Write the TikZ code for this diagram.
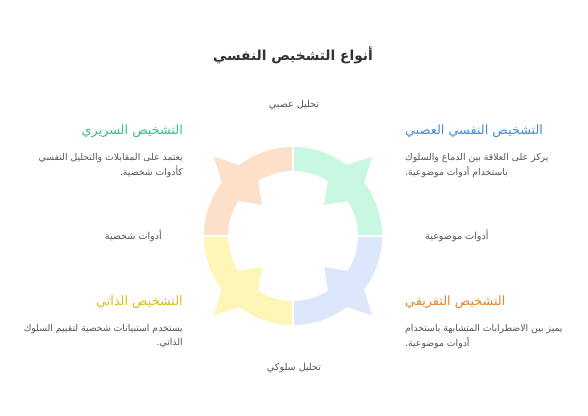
\documentclass[tikz,border=0pt]{standalone}
\usepackage{fontspec}
\newfontfamily\ar[Script=Arabic]{DejaVu Sans}
\TeXXeTstate=1
\definecolor{ringO}{RGB}{253,224,201}
\definecolor{ringG}{RGB}{200,248,226}
\definecolor{ringB}{RGB}{220,231,252}
\definecolor{ringY}{RGB}{254,246,182}
\definecolor{hG}{RGB}{60,190,130}
\definecolor{hB}{RGB}{70,140,215}
\definecolor{hO}{RGB}{222,137,50}
\definecolor{hY}{RGB}{215,190,20}
\definecolor{descc}{RGB}{85,85,85}
\definecolor{titlec}{RGB}{51,51,51}
\begin{document}
\begin{tikzpicture}[x=1pt,y=-1pt,
  ttl/.style={inner sep=0pt,font=\ar\bfseries\fontsize{13.8}{16}\selectfont,text=titlec},
  hdr/.style={inner sep=0pt,font=\ar\fontsize{12.8}{15}\selectfont},
  dsc/.style={inner sep=0pt,font=\ar\fontsize{9.3}{11}\selectfont,text=descc},
  lbl/.style={inner sep=0pt,font=\ar\fontsize{9.6}{11}\selectfont,text=descc}]
\useasboundingbox[fill=white] (0,0) rectangle (588,415);
% ring
\begin{scope}[shift={(293pt,-236pt)},x=1pt,y=1pt]
  \foreach \a/\c in {0/ringG,90/ringO,180/ringY,270/ringB}{
    \fill[\c] (\a:89) arc[start angle=\a, end angle=\a+90, radius=89]
      -- ({\a+90}:65) arc[start angle=\a+90, end angle=\a, radius=65] -- cycle;
    \pgfmathsetmacro{\m}{\a+45}
    \fill[\c] (\m:112) -- ({\m-8}:89) -- ({\m-12.5}:65) -- (\m:44)
      -- ({\m+12.5}:65) -- ({\m+8}:89) -- cycle;
  }
  \draw[white,line width=2pt] (0,-95) -- (0,95);
  \draw[white,line width=2pt] (-95,0) -- (95,0);
\end{scope}
% title
\node[ttl] (title) at (293,55) {\beginR أنواع التشخيص النفسي\endR};
% top-left
\node[hdr,text=hG,anchor=east] (h1) at (183,131) {\beginR التشخيص السريري\endR};
\node[dsc,anchor=east] (d1a) at (183,158) {\beginR يعتمد على المقابلات والتحليل النفسي\endR};
\node[dsc,anchor=east] (d1b) at (183,172) {\beginR كأدوات شخصية.\endR};
% top-right
\node[hdr,text=hB,anchor=west] (h2) at (405,131) {\beginR التشخيص النفسي العصبي\endR};
\node[dsc,anchor=west] (d2a) at (405,158) {\beginR يركز على العلاقة بين الدماغ والسلوك\endR};
\node[dsc,anchor=west] (d2b) at (405,172) {\beginR باستخدام أدوات موضوعية.\endR};
% bottom-left
\node[hdr,text=hY,anchor=east] (h3) at (183,302) {\beginR التشخيص الذاتي\endR};
\node[dsc,anchor=east] (d3a) at (183,329) {\beginR يستخدم استبيانات شخصية لتقييم السلوك\endR};
\node[dsc,anchor=east] (d3b) at (183,343) {\beginR الذاتي.\endR};
% bottom-right
\node[hdr,text=hO,anchor=west] (h4) at (405,302) {\beginR التشخيص التفريقي\endR};
\node[dsc,anchor=west] (d4a) at (405,329) {\beginR يميز بين الاضطرابات المتشابهة باستخدام\endR};
\node[dsc,anchor=west] (d4b) at (405,343) {\beginR أدوات موضوعية.\endR};
% axis labels
\node[lbl] (top) at (294,105) {\beginR تحليل عصبي\endR};
\node[lbl] (bot) at (294,368) {\beginR تحليل سلوكي\endR};
\node[lbl,anchor=east] (lft) at (162,236) {\beginR أدوات شخصية\endR};
\node[lbl,anchor=west] (rgt) at (425,236) {\beginR أدوات موضوعية\endR};
\end{tikzpicture}
\end{document}
